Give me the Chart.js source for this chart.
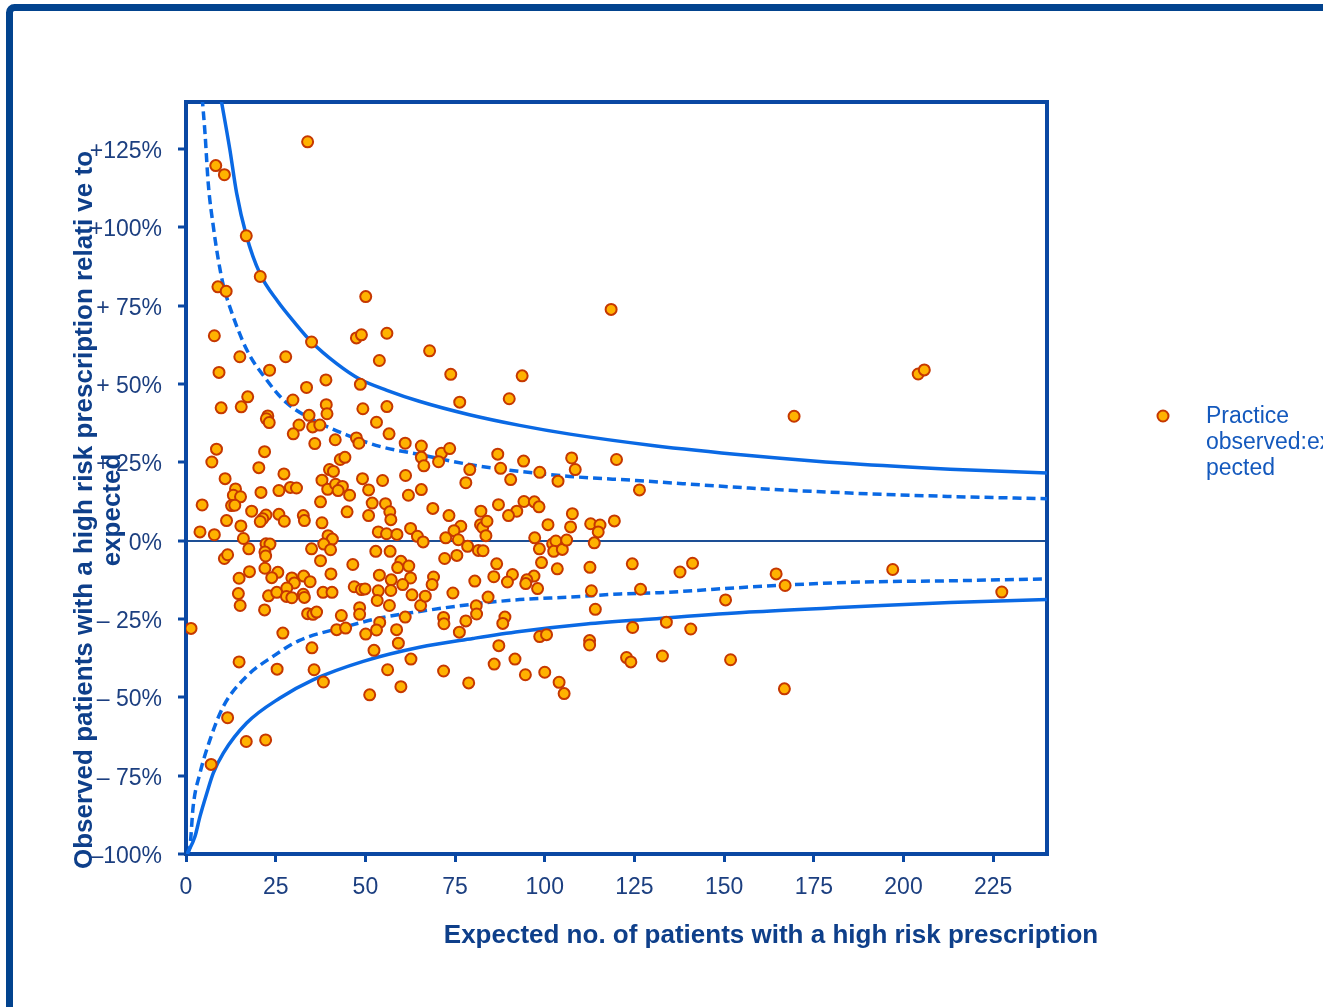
<!DOCTYPE html>
<html>
<head>
<meta charset="utf-8">
<title>Funnel plot</title>
<script src="https://cdn.jsdelivr.net/npm/chart.js@4.4.1/dist/chart.umd.min.js"></script>
<style>
  html, body { margin: 0; padding: 0; background: #fff; }
  #wrap { width: 1323px; height: 1007px; }
</style>
</head>
<body>
<div id="wrap"><canvas id="funnel" width="1323" height="1007"></canvas></div>
<script>
// practices: expected count (x) and observed vs expected in % (y)
const obsX = [
  33.9, 8.3, 10.7, 16.8, 20.7, 8.9, 11.2, 50.1, 118.5, 7.9,
  35.0, 47.5, 48.9, 56.0, 15.0, 27.8, 53.9, 9.2, 23.3, 39.0,
  33.6, 48.6, 17.2, 15.4, 9.8, 29.8, 39.1, 39.3, 49.3, 56.0,
  22.8, 22.4, 23.2, 34.3, 31.5, 35.3, 37.3, 53.1, 29.9, 35.9,
  41.6, 47.5, 48.2, 56.6, 61.1, 65.6, 8.5, 7.2, 21.9, 20.3,
  27.3, 10.9, 40.0, 41.1, 43.0, 44.3, 49.2, 54.8, 61.2, 65.6,
  37.9, 67.9, 73.8, 93.7, 76.3, 90.1, 66.3, 71.2, 70.4, 73.5,
  86.9, 87.7, 79.1, 94.1, 98.6, 107.5, 108.5, 120.0, 90.5, 103.7,
  78.0, 13.8, 13.2, 15.2, 12.7, 13.6, 20.9, 25.9, 29.1, 30.8,
  39.5, 41.7, 43.6, 42.4, 45.6, 50.9, 62.0, 4.5, 37.5, 51.9,
  55.6, 56.8, 57.1, 18.3, 22.3, 21.4, 20.7, 25.9, 27.4, 32.7,
  33.0, 44.9, 50.9, 11.3, 15.3, 37.9, 62.6, 3.9, 7.9, 16.0,
  53.6, 55.9, 58.8, 64.5, 66.1, 22.3, 23.4, 22.0, 22.2, 39.6,
  40.8, 38.4, 40.3, 17.5, 35.0, 10.7, 11.6, 37.5, 52.9, 56.9,
  46.5, 59.9, 59.0, 62.1, 22.0, 17.7, 25.6, 14.8, 23.9, 40.4,
  53.9, 57.2, 62.6, 29.5, 30.2, 32.8, 34.6, 46.9, 48.9, 49.9,
  60.4, 14.6, 23.0, 25.3, 28.1, 28.0, 29.5, 32.7, 33.0, 38.2,
  40.7, 53.6, 53.3, 57.1, 63.0, 15.1, 21.9, 56.7, 65.4, 33.9,
  35.4, 36.4, 43.3, 48.4, 48.4, 1.4, 27.0, 42.0, 44.5, 54.0,
  53.1, 50.1, 58.7, 61.1, 65.6, 126.4, 68.8, 73.3, 82.2, 87.1,
  94.2, 97.1, 98.4, 92.2, 89.9, 107.7, 76.6, 74.7, 75.9, 82.1,
  82.7, 83.9, 83.6, 100.9, 107.2, 112.8, 115.4, 114.9, 119.4, 72.4,
  78.5, 81.5, 82.8, 97.2, 98.5, 102.2, 103.1, 102.5, 104.9, 106.1,
  113.8, 72.1, 75.5, 86.6, 99.1, 103.5, 112.6, 124.4, 69.0, 68.6,
  85.8, 80.5, 91.0, 89.6, 97.0, 95.0, 94.7, 98.0, 126.7, 113.0,
  74.4, 66.7, 84.2, 80.9, 81.0, 114.1, 71.8, 71.9, 78.0, 88.9,
  88.3, 76.2, 98.6, 100.5, 124.5, 112.5, 112.5, 52.4, 59.2, 62.7,
  35.1, 14.8, 25.4, 35.7, 38.3, 56.2, 59.9, 51.2, 11.6, 16.8,
  22.2, 7.0, 87.2, 71.8, 78.8, 85.9, 91.7, 94.6, 100.0, 104.0,
  105.4, 122.8, 124.0, 169.5, 204.1, 205.8, 141.2, 137.7, 164.5, 167.0,
  197.0, 150.4, 227.4, 133.9, 140.7, 132.8, 151.8, 166.8
];
const obsY = [
  127.3, 119.7, 116.8, 97.3, 84.3, 81.0, 79.6, 77.9, 73.8, 65.4,
  63.4, 64.7, 65.7, 66.2, 58.7, 58.7, 57.5, 53.7, 54.4, 51.3,
  48.9, 49.9, 45.9, 42.7, 42.4, 44.9, 43.4, 40.5, 42.1, 42.8,
  39.8, 38.9, 37.7, 40.0, 36.9, 36.3, 36.9, 37.8, 34.1, 31.0,
  32.2, 32.8, 31.1, 34.1, 31.1, 30.2, 29.2, 25.1, 28.4, 23.3,
  21.3, 19.8, 22.7, 22.1, 25.9, 26.6, 19.8, 19.2, 20.8, 26.6,
  19.3, 60.6, 53.1, 52.6, 44.2, 45.3, 23.9, 27.9, 25.2, 29.4,
  27.6, 23.1, 22.7, 25.4, 21.8, 26.4, 22.7, 25.9, 19.5, 19.0,
  18.5, 16.5, 14.5, 14.0, 11.2, 11.3, 15.4, 16.0, 17.0, 16.8,
  16.4, 18.0, 17.3, 16.0, 14.5, 16.2, 14.5, 11.4, 12.4, 12.0,
  11.8, 9.2, 6.7, 9.4, 8.2, 7.0, 6.1, 8.4, 6.2, 8.0,
  6.4, 9.2, 8.0, 6.4, 4.7, 5.7, 3.9, 2.8, 1.9, 0.7,
  2.8, 2.2, 2.0, 1.4, -0.4, -1.0, -1.1, -3.6, -4.9, 1.6,
  0.5, -1.1, -2.9, -2.6, -2.6, -5.7, -4.5, -6.4, -3.4, -3.4,
  -7.6, -6.6, -8.6, -8.1, -8.8, -9.9, -10.1, -12.0, -11.8, -10.6,
  -11.0, -12.5, -11.9, -11.9, -13.5, -11.3, -13.1, -14.7, -15.6, -15.4,
  -14.0, -16.9, -17.6, -16.5, -15.1, -17.8, -18.2, -17.1, -18.1, -16.5,
  -16.5, -16.0, -19.1, -15.9, -17.3, -20.7, -22.1, -20.7, -20.7, -23.3,
  -23.5, -22.8, -23.9, -21.4, -23.5, -28.0, -29.5, -28.4, -27.9, -26.1,
  -28.5, -29.8, -28.4, -24.4, 16.3, 16.2, 10.3, 8.0, 9.4, 11.5,
  12.5, 12.4, 10.8, 9.4, 8.0, 8.6, 4.6, 3.2, 0.3, 5.1,
  4.2, 6.2, 1.6, 5.1, 4.4, 5.4, 5.0, 2.8, 6.3, 0.9,
  -1.8, -3.1, -3.2, 0.9, -2.6, -1.0, -0.1, -3.4, -2.8, 0.2,
  -0.7, -5.7, -4.7, -7.4, -7.0, -9.0, -8.5, -7.4, -11.6, -14.0,
  -11.5, -12.9, -10.8, -13.2, -11.3, -12.5, -13.7, -15.3, -15.5, -16.0,
  -16.7, -17.7, -18.0, -20.8, -23.4, -21.9, -24.5, -26.5, -25.6, -24.4,
  -26.4, -29.2, -30.6, -30.0, -27.7, -31.9, -33.3, -35.0, -32.7, -37.8,
  -34.2, -38.7, -41.0, -41.2, -45.1, -41.2, -46.6, -49.2, -56.5, -64.1,
  -63.6, -71.4, -33.5, -41.6, -45.4, -39.4, -37.8, -42.8, -42.0, -45.2,
  -48.8, -37.3, -38.7, 39.7, 53.2, 54.5, -7.2, -10.0, -10.6, -14.3,
  -9.2, -18.9, -16.4, -26.0, -28.2, -36.8, -38.0, -47.3
];

// control limits
const upper998X = [9.6, 12.2, 14.1, 16.8, 20.7, 25.5, 30, 35, 42, 48.5, 56, 65, 79, 93, 107, 130, 157, 185, 213, 240];
const upper998Y = [142, 125, 111, 97.5, 85, 76.5, 70, 63.4, 56.5, 51.5, 48, 44.5, 40.2, 36.8, 34, 30.4, 27.2, 24.6, 22.8, 21.6];
const upper95X = [4.5, 5.3, 6.2, 7.6, 9.0, 10.4, 11.8, 16.9, 22, 28, 35.4, 44.7, 54, 65.1, 79, 93, 107, 125.5, 157, 185, 213, 240];
const upper95Y = [141.5, 130, 114, 100.4, 89.7, 81.5, 76, 61, 52, 44, 38.6, 33.8, 30.1, 27.5, 24.3, 22.1, 20.5, 19.2, 16.8, 15.2, 14.1, 13.4];
const lower95X = [0.2, 1.1, 2.0, 3.9, 6.7, 10.4, 16.9, 24.3, 31.5, 44.7, 54, 65.1, 79, 93, 107, 121, 132, 157, 185, 213, 240];
const lower95Y = [-100, -97.6, -84.8, -74.2, -63.5, -52.9, -43.3, -36.9, -31.9, -27.4, -24.7, -22.6, -20.4, -18.8, -18, -17, -16.6, -14.8, -13.3, -12.8, -12.2];
const lower998X = [0.3, 2.5, 3.9, 5.8, 7.6, 10.4, 16.9, 26.2, 35.4, 49.4, 65.1, 80, 93, 111.6, 130, 157, 185, 213, 240];
const lower998Y = [-100, -94.4, -88, -80.6, -74.2, -67.8, -58.2, -50.2, -44.4, -38.5, -34, -31.2, -29.0, -26.6, -25, -22.8, -21.2, -19.7, -18.8];

const xTicks = [0, 25, 50, 75, 100, 125, 150, 175, 200, 225];
const yTicks = [125, 100, 75, 50, 25, 0, -25, -50, -75, -100];
const yTickLabels = ['+125%', '+100%', '+ 75%', '+ 50%', '+ 25%', '0%', '\u2013 25%', '\u2013 50%', '\u2013 75%', '\u2013100%'];

const xTitle = 'Expected no. of patients with a high risk prescription';
const yTitleLines = ['Observed patients with a high risk prescription relati ve to', 'expected'];
const legendLines = ['Practice', 'observed:ex', 'pected'];

const FONT = '"Liberation Sans", Arial, Helvetica, sans-serif';
const DARK = '#0a48a3';
const LINE_BLUE = '#0a69e4';
const PT_FILL = '#ffb200';
const PT_EDGE = '#c63800';

function pairs(xs, ys) {
    return xs.map((x, i) => ({ x: x, y: ys[i] }));
}

function limitLine(label, xs, ys, dashed) {
    return {
        type: 'line',
        label: label,
        data: pairs(xs, ys),
        borderColor: LINE_BLUE,
        borderWidth: 3.5,
        borderDash: dashed ? [9, 5] : [],
        pointRadius: 0,
        fill: false,
        cubicInterpolationMode: 'monotone'
    };
}

// frame, plot box, titles and legend
const decor = {
    id: 'decor',
    beforeDraw(chart) {
        const c = chart.ctx;
        c.save();
        c.fillStyle = '#ffffff';
        c.fillRect(0, 0, chart.width, chart.height);
        c.strokeStyle = '#02438e';
        c.lineWidth = 7;
        c.beginPath();
        c.roundRect(9.5, 7.5, 1400, 1100, 5);
        c.stroke();
        c.restore();
    },
    beforeDatasetsDraw(chart) {
        const a = chart.chartArea;
        const c = chart.ctx;
        c.save();
        c.strokeStyle = DARK;
        c.lineWidth = 4;
        c.strokeRect(a.left, a.top, a.right - a.left, a.bottom - a.top);
        c.restore();
    },
    afterDraw(chart) {
        const c = chart.ctx;
        c.save();
        // axis titles
        c.fillStyle = '#0e3f8a';
        c.font = 'bold 26px ' + FONT;
        c.textAlign = 'center';
        c.textBaseline = 'middle';
        c.fillText(xTitle, 771, 936);
        const cols = [85, 113];
        yTitleLines.forEach((t, i) => {
            c.save();
            c.translate(cols[i], 510);
            c.rotate(-Math.PI / 2);
            c.fillText(t, 0, 0);
            c.restore();
        });
        // legend
        c.beginPath();
        c.arc(1163, 416, 5.5, 0, Math.PI * 2);
        c.fillStyle = PT_FILL;
        c.fill();
        c.lineWidth = 2;
        c.strokeStyle = PT_EDGE;
        c.stroke();
        c.fillStyle = '#1459bd';
        c.font = '23px ' + FONT;
        c.textAlign = 'left';
        legendLines.forEach((t, i) => c.fillText(t, 1206, 417 + i * 26));
        c.restore();
    }
};

new Chart(document.getElementById('funnel'), {
    type: 'scatter',
    data: {
        datasets: [
            {
                label: 'Practice observed:expected',
                data: pairs(obsX, obsY),
                pointRadius: 5.5,
                pointHoverRadius: 5.5,
                borderWidth: 2,
                backgroundColor: PT_FILL,
                borderColor: PT_EDGE
            },
            limitLine('Upper 99.8%', upper998X, upper998Y, false),
            limitLine('Upper 95%', upper95X, upper95Y, true),
            limitLine('Lower 95%', lower95X, lower95Y, true),
            limitLine('Lower 99.8%', lower998X, lower998Y, false)
        ]
    },
    options: {
        responsive: false,
        animation: false,
        layout: { padding: { left: 0, right: 276, top: 102, bottom: 0 } },
        scales: {
            x: {
                type: 'linear',
                min: 0,
                max: 240,
                afterBuildTicks: s => { s.ticks = xTicks.map(v => ({ value: v })); },
                afterFit: s => { s.height = 153; },
                ticks: {
                    color: '#1c3f80',
                    font: { family: FONT, size: 23 },
                    padding: 12,
                    maxRotation: 0,
                    autoSkip: false
                },
                grid: {
                    drawOnChartArea: false,
                    drawTicks: true,
                    tickLength: 8,
                    tickColor: DARK,
                    tickWidth: 3
                },
                border: { display: false }
            },
            y: {
                min: -100,
                max: 140,
                afterBuildTicks: s => { s.ticks = yTicks.map(v => ({ value: v })); },
                afterFit: s => { s.width = 186; },
                ticks: {
                    color: '#1c3f80',
                    font: { family: FONT, size: 23 },
                    padding: 16,
                    labelOffset: 2.5,
                    autoSkip: false,
                    callback: (v, i) => yTickLabels[i]
                },
                grid: {
                    color: ctx => (ctx.tick && ctx.tick.value === 0) ? '#1d4f95' : 'rgba(0,0,0,0)',
                    lineWidth: 2,
                    drawTicks: true,
                    tickLength: 8,
                    tickColor: DARK,
                    tickWidth: 3
                },
                border: { display: false }
            }
        },
        plugins: {
            legend: { display: false },
            tooltip: { enabled: false }
        }
    },
    plugins: [decor]
});
</script>
</body>
</html>
